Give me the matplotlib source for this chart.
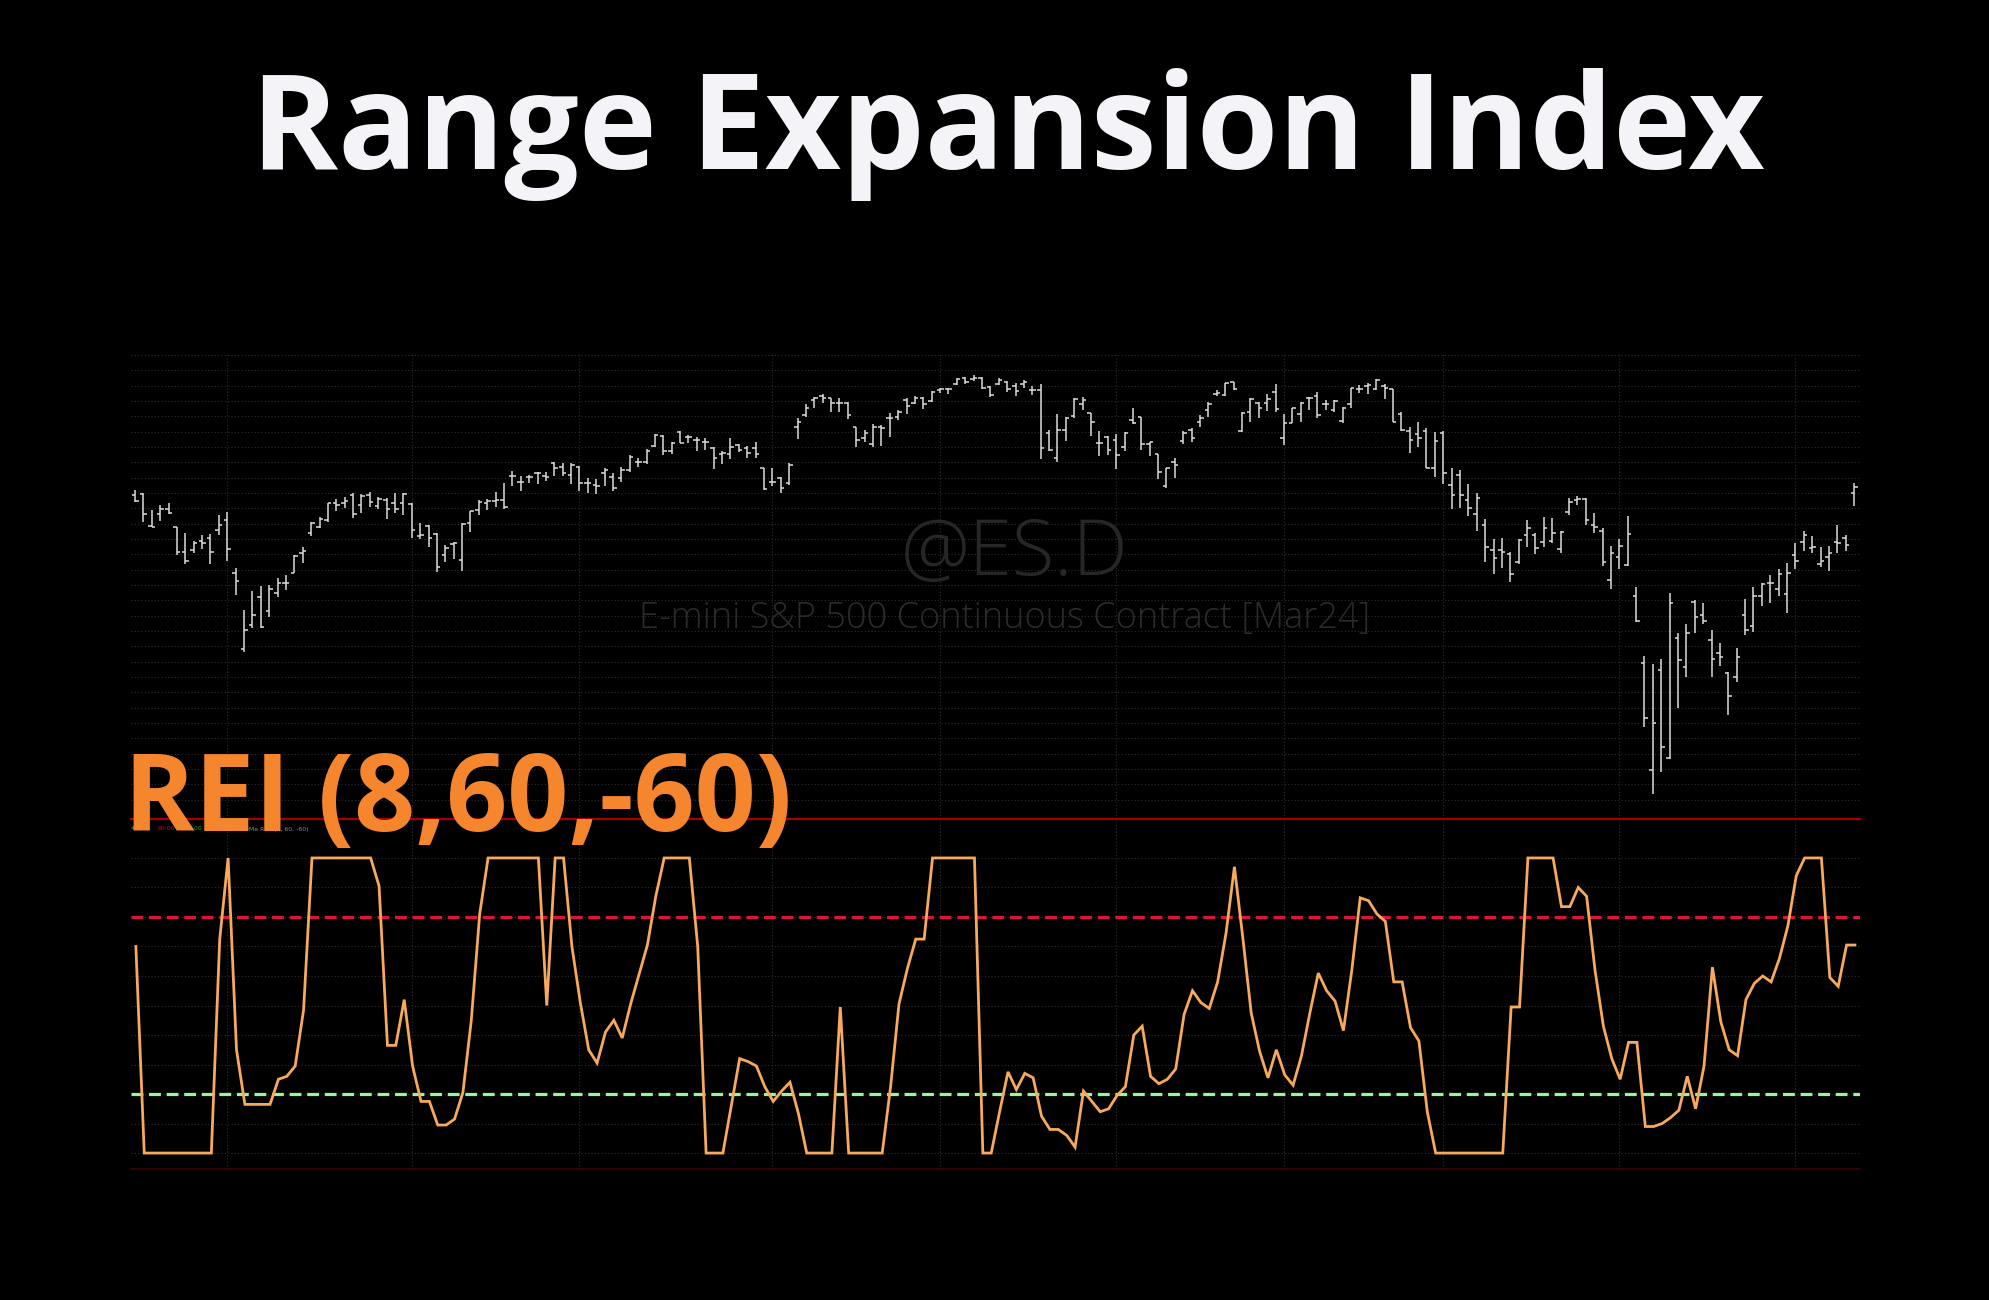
import numpy as np
import matplotlib
matplotlib.use("Agg")
import matplotlib.pyplot as plt

# ---------------- data ----------------
open_ = [2505,2506,2474,2486,2491,2473,2448,2450,2459,2462,2470,2480,2427,2351,2375,2403,2389,2407,2417,2427,
         2447,2467,2473,2480,2497,2497,2505,2495,2505,2494,2500,2497,2497,2496,2464,2474,2466,2445,2456,2440,
         2477,2490,2497,2499,2500,2524,2518,2523,2527,2524,2537,2533,2525,2533,2517,2515,2527,2523,2522,2530,
         2538,2538,2554,2564,2549,2568,2563,2560,2558,2552,2546,2546,2555,2552,2552,2532,2518,2522,2517,2573,
         2585,2600,2604,2602,2597,2597,2573,2562,2556,2573,2582,2583,2600,2597,2602,2599,2610,2611,2616,2622,
         2621,2622,2613,2616,2618,2614,2616,2610,2610,2567,2542,2570,2584,2596,2587,2557,2563,2560,2553,2580,
         2583,2556,2546,2514,2538,2559,2570,2578,2590,2606,2605,2618,2569,2588,2597,2597,2608,2562,2577,2586,
         2602,2604,2596,2590,2579,2596,2611,2614,2611,2614,2611,2586,2569,2566,2569,2532,2567,2515,2525,2500,
         2486,2475,2450,2450,2446,2438,2465,2465,2458,2459,2451,2488,2500,2501,2475,2469,2420,2443,2435,2404,
         2337,2230,2330,2242,2362,2333,2398,2385,2360,2347,2327,2323,2385,2374,2404,2417,2411,2406,2445,2458,
         2452,2436,2443,2458,2462,2507]
high = [2510,2507,2490,2495,2497,2473,2467,2459,2465,2466,2485,2488,2432,2390,2409,2414,2415,2422,2425,2445,
        2453,2478,2483,2497,2501,2503,2507,2506,2508,2503,2502,2507,2507,2497,2477,2475,2467,2455,2458,2477,
        2489,2500,2501,2508,2517,2529,2524,2525,2528,2528,2538,2537,2537,2534,2522,2521,2532,2527,2533,2545,
        2542,2551,2566,2565,2558,2569,2565,2563,2562,2553,2549,2562,2556,2554,2558,2532,2532,2523,2537,2582,
        2596,2603,2606,2602,2602,2598,2573,2570,2576,2575,2587,2590,2602,2604,2603,2609,2612,2612,2622,2623,
        2625,2623,2614,2622,2619,2617,2620,2614,2616,2570,2586,2583,2602,2603,2587,2569,2564,2566,2568,2592,
        2583,2558,2546,2532,2542,2569,2572,2585,2598,2610,2617,2618,2588,2602,2598,2606,2616,2586,2592,2598,
        2603,2608,2600,2600,2593,2612,2615,2617,2621,2616,2611,2588,2573,2578,2572,2568,2569,2532,2530,2516,
        2507,2481,2461,2462,2448,2461,2480,2467,2483,2482,2469,2502,2504,2502,2487,2472,2454,2461,2484,2413,
        2344,2336,2341,2407,2367,2376,2400,2397,2370,2357,2328,2352,2401,2413,2417,2425,2431,2437,2457,2469,
        2464,2453,2454,2475,2465,2517]
low = [2498,2478,2473,2479,2486,2445,2436,2447,2451,2436,2465,2439,2405,2348,2372,2372,2383,2403,2410,2427,
       2437,2464,2472,2478,2489,2492,2482,2487,2493,2491,2481,2487,2485,2462,2461,2453,2428,2438,2441,2429,
       2468,2485,2490,2493,2491,2514,2509,2517,2516,2519,2524,2524,2516,2509,2507,2506,2514,2509,2518,2528,
       2533,2536,2553,2545,2546,2557,2557,2549,2550,2531,2536,2541,2548,2542,2542,2510,2514,2507,2515,2561,
       2583,2592,2597,2588,2588,2581,2553,2558,2553,2554,2563,2580,2586,2596,2591,2598,2607,2606,2615,2616,
       2619,2611,2603,2615,2608,2604,2612,2605,2541,2549,2538,2559,2582,2590,2564,2544,2545,2531,2549,2576,
       2550,2544,2521,2512,2522,2556,2558,2573,2583,2604,2604,2610,2568,2578,2582,2589,2588,2555,2577,2578,
       2590,2582,2590,2588,2577,2592,2607,2606,2610,2601,2578,2569,2547,2553,2532,2523,2516,2491,2492,2484,
       2469,2438,2426,2432,2418,2436,2453,2446,2453,2457,2447,2485,2495,2475,2467,2434,2411,2431,2434,2378,
       2273,2206,2228,2241,2292,2323,2367,2376,2323,2334,2285,2318,2365,2368,2394,2397,2404,2387,2431,2449,
       2447,2433,2429,2447,2449,2494]
close = [2499,2486,2473,2491,2487,2448,2439,2457,2457,2448,2475,2451,2419,2370,2385,2373,2411,2417,2417,2444,
         2449,2477,2481,2497,2495,2499,2486,2504,2498,2501,2491,2491,2506,2470,2465,2462,2433,2452,2457,2476,
         2489,2498,2499,2500,2493,2524,2518,2523,2527,2523,2532,2527,2535,2517,2517,2514,2530,2512,2530,2543,
         2538,2549,2565,2549,2557,2557,2563,2560,2558,2542,2547,2553,2550,2547,2546,2511,2518,2512,2535,2578,
         2592,2602,2602,2597,2597,2585,2560,2567,2573,2572,2582,2588,2594,2602,2596,2608,2611,2611,2621,2618,
         2622,2612,2605,2620,2611,2609,2618,2610,2552,2550,2570,2582,2601,2600,2578,2557,2550,2545,2567,2577,
         2556,2558,2528,2532,2535,2567,2562,2582,2596,2607,2617,2611,2587,2601,2592,2601,2591,2577,2592,2597,
         2602,2585,2596,2599,2592,2612,2611,2615,2620,2612,2578,2570,2560,2562,2532,2559,2527,2505,2505,2492,
         2502,2453,2442,2448,2426,2460,2472,2452,2472,2467,2468,2498,2501,2480,2473,2438,2447,2454,2466,2379,
         2282,2277,2253,2397,2340,2367,2383,2379,2341,2343,2304,2343,2370,2404,2416,2417,2426,2427,2439,2465,
         2453,2439,2447,2457,2455,2513]
rei = [40,-100,-100,-100,-100,-100,-100,-100,-100,-100,
       45,100,-30,-67,-67,-67,-67,-50,-48,-41,
       -3,100,100,100,100,100,100,100,100,81,
       -27,-27,4,-41,-65,-65,-81,-81,-77,-59,
       -10,62,100,100,100,100,100,100,100,0,
       100,100,40,2,-30,-39,-18,-10,-22,1,
       21,41,74,100,100,100,100,40,-100,-100,
       -100,-68,-36,-38,-41,-55,-65,-58,-52,-73,
       -100,-100,-100,-100,-1,-100,-100,-100,-100,-100,
       -55,1,25,45,45,100,100,100,100,100,
       100,-100,-100,-72,-45,-57,-46,-49,-75,-84,
       -84,-88,-96,-58,-65,-72,-70,-61,-55,-20,
       -14,-48,-53,-50,-43,-6,10,2,-2,16,
       49,94,46,-5,-31,-49,-30,-47,-54,-34,
       -5,22,10,3,-17,24,73,71,62,57,
       16,16,-15,-24,-72,-100,-100,-100,-100,-100,
       -100,-100,-100,-100,-1,-1,100,100,100,100,
       67,67,80,74,24,-14,-36,-50,-25,-25,
       -82,-82,-80,-76,-71,-48,-70,-41,26,-11,
       -30,-34,4,15,20,16,32,54,88,100,
       100,100,19,13,41,41]
upper_level = 60
lower_level = -60
month_starts = [11, 33, 53, 76, 96, 117, 137, 156, 177, 198]
title = "Range Expansion Index"
rei_label = "REI (8,60,-60)"
symbol = "@ES.D"
description = "E-mini S&P 500 Continuous Contract [Mar24]"
status_parts = ["41.09", "60.00", "-60.00", "ShowMe REI  (8, 60, -60)"]

n = len(close)
assert len(open_) == n and len(high) == n and len(low) == n and len(rei) == n
x = np.arange(n)

# ---------------- figure ----------------
BG = "#000000"
fig = plt.figure(figsize=(19.9, 13), dpi=100, facecolor=BG)

W, H = 1990, 1300
def rect(x0, y0, x1, y1):
    return [x0 / W, 1 - y1 / H, (x1 - x0) / W, (y1 - y0) / H]

xlim = (-0.48, 205.7)
grid_kw = dict(color="#2c2c2c", linestyle=(0, (1, 2)), linewidth=0.8)

# price panel
axp = fig.add_axes(rect(131, 353, 1860, 819), facecolor=BG)
axp.set_xlim(*xlim)
axp.set_ylim(2181, 2647)
axp.set_xticks(month_starts)
axp.set_yticks(np.arange(2645, 2190, -15.33))
axp.grid(True, **grid_kw)
axp.tick_params(left=False, bottom=False, labelleft=False, labelbottom=False)
for s in axp.spines.values():
    s.set_visible(False)

bar_col = "#dcdcdc"
axp.vlines(x, low, high, color=bar_col, linewidth=1.1, zorder=3)
axp.hlines(open_, x - 0.42, x, color=bar_col, linewidth=1.1, zorder=3)
axp.hlines(close, x, x + 0.42, color=bar_col, linewidth=1.1, zorder=3)

axp.text(0.511, 0.567, symbol, transform=axp.transAxes, ha="center", va="center",
         fontsize=56, color="#262626", family="Open Sans", fontweight="light", zorder=1)
axp.text(0.505, 0.431, description, transform=axp.transAxes, ha="center", va="center",
         fontsize=26, color="#2b2b2b", family="Open Sans", fontweight="light", zorder=1)

# REI panel
axr = fig.add_axes(rect(131, 819, 1860, 1169), facecolor=BG)
axr.set_xlim(*xlim)
axr.set_ylim(-110.8, 126.4)
axr.set_xticks(month_starts)
axr.set_yticks(np.arange(-100, 101, 20))
axr.grid(True, **grid_kw)
axr.tick_params(left=False, bottom=False, labelleft=False, labelbottom=False)
for side in ("left", "right"):
    axr.spines[side].set_visible(False)
axr.spines["top"].set_color("#a30000")
axr.spines["top"].set_linewidth(1.6)
axr.spines["bottom"].set_color("#3e0000")
axr.spines["bottom"].set_linewidth(1.2)

axr.axhline(upper_level, color="#dc143c", linewidth=2.3, dashes=(3.7, 1.8), zorder=2)
axr.axhline(lower_level, color="#98f598", linewidth=2.3, dashes=(3.7, 1.8), zorder=2)
axr.plot(x + 0.1, rei, color="#f7a95c", linewidth=2.0, zorder=3, solid_joinstyle="miter")

# tiny status line (sits behind the big label, as in the original)
ty = 1 - 829 / H
status_colors = ["#8a8a8a", "#cc0000", "#00a000", "#8a8a8a"]
status_x = [131, 158, 183, 232]
for txt, col, sx in zip(status_parts, status_colors, status_x):
    fig.text(sx / W, ty, txt, fontsize=4.5, color=col, va="center", zorder=1)

# labels
fig.text(1008 / W, 1 - 169 / H, title, ha="center", va="baseline", fontsize=95,
         fontweight="bold", family="Open Sans", color="#f4f4f8")
fig.text(124 / W, 1 - 831 / H, rei_label, ha="left", va="baseline", fontsize=77,
         fontweight="bold", family="Open Sans", color="#f5862e", zorder=10)

fig.savefig("out.png", dpi=100, facecolor=BG)
